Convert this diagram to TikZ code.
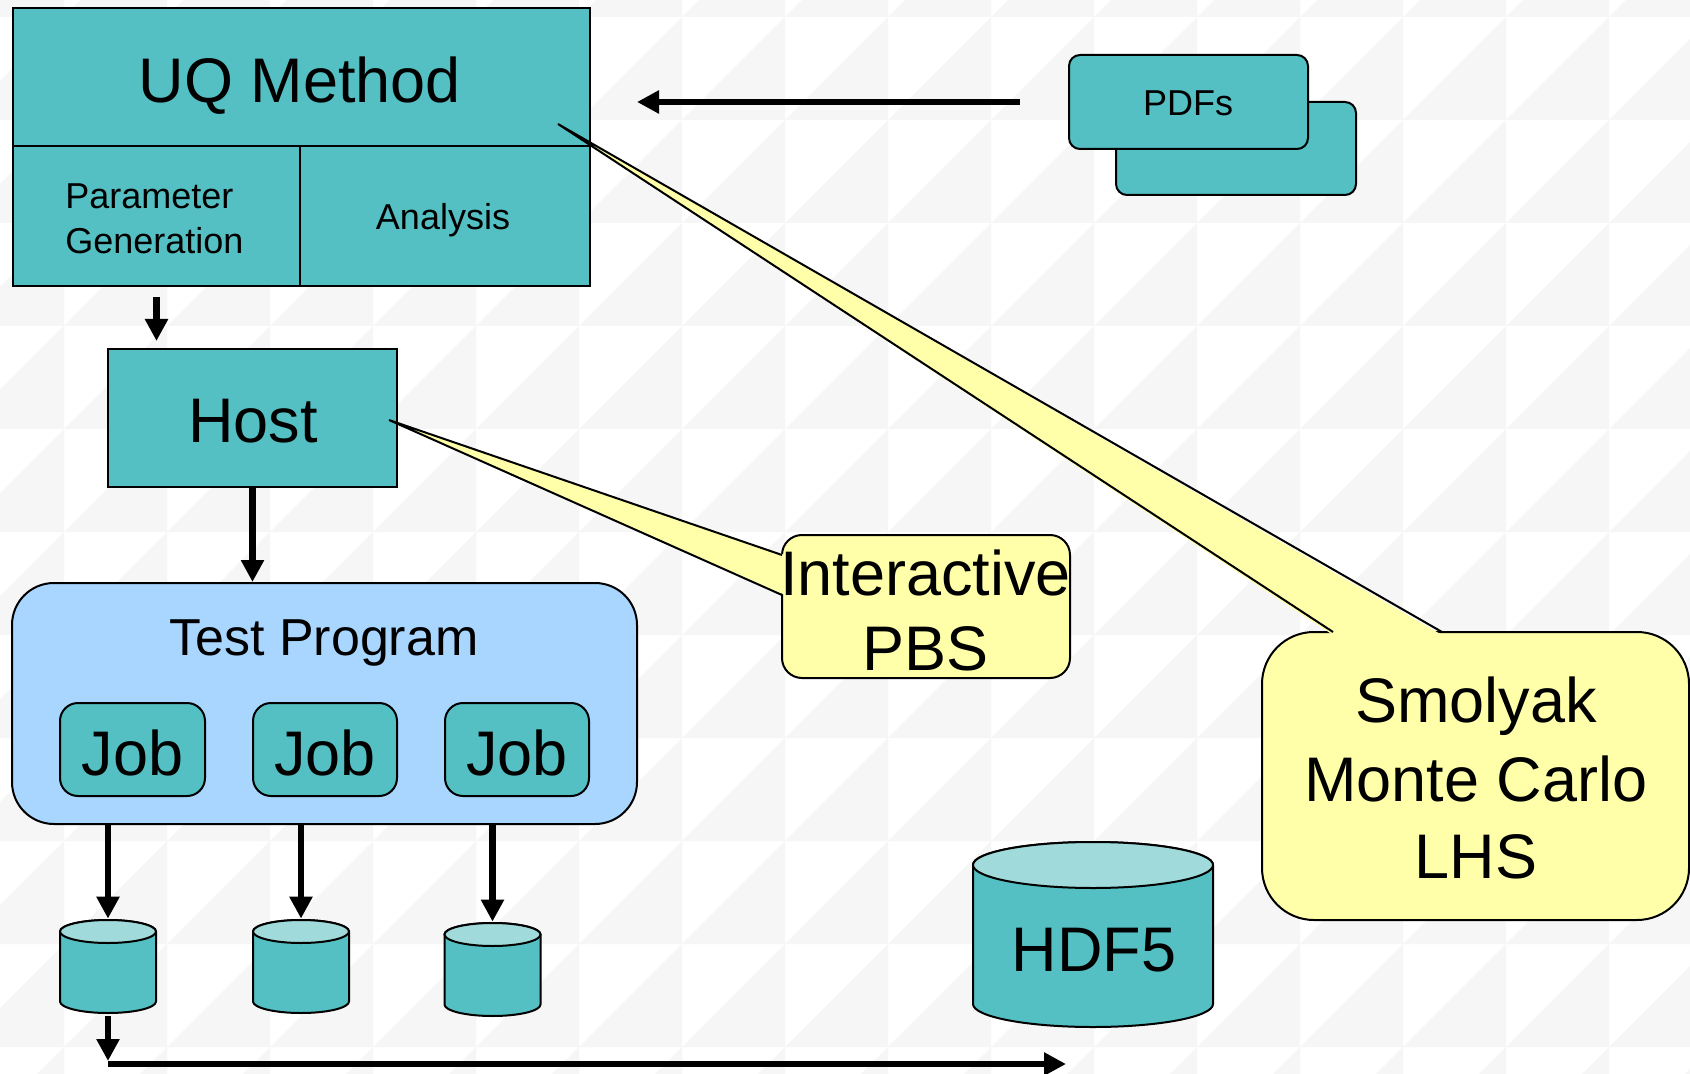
\documentclass[tikz,border=0pt]{standalone}
\usepackage{fontspec}
\setmainfont{Liberation Sans}
\usetikzlibrary{arrows.meta}
\definecolor{uqteal}{RGB}{84,192,195}
\definecolor{uqcyltop}{RGB}{160,218,218}
\definecolor{uqblue}{RGB}{168,214,255}
\definecolor{uqyellow}{RGB}{255,255,170}
\definecolor{uqbg}{RGB}{246,246,246}
\newcommand\dbcyl[6]{%
  \node[inner sep=0pt, minimum width={#5*1pt}, minimum height={(#4-#3)*0.5pt}] (#1) at ({#2},{(#3+#4)/2}) {};
  \draw[line width=1pt, fill=uqteal] ({#2-#5},{#3+#6}) -- ({#2-#5},{#4-#6})
     arc[start angle=180, end angle=360, x radius={#5*0.5pt}, y radius={#6*0.5pt}]
     -- ({#2+#5},{#3+#6})
     arc[start angle=0, end angle=180, x radius={#5*0.5pt}, y radius={#6*0.5pt}] -- cycle;
  \draw[line width=1pt, fill=uqcyltop] ({#2},{#3+#6}) ellipse [x radius={#5*0.5pt}, y radius={#6*0.5pt}];
}
\begin{document}
\begin{tikzpicture}[x=0.5pt,y=-0.5pt,
  box/.style={draw=black, line width=1pt, fill=uqteal, inner sep=0pt},
  callout/.style={draw=black, line width=1pt, fill=uqyellow, inner sep=0pt},
  arr/.style={line width=3.25pt, -{Triangle[length=11pt,width=11pt]}},
  big/.style={font=\fontsize{31.5}{38}\selectfont, inner sep=0pt, anchor=base},
  mid/.style={font=\fontsize{26}{30}\selectfont, inner sep=0pt, anchor=base},
  small/.style={font=\fontsize{18}{22}\selectfont, inner sep=0pt, anchor=base}]

\fill[white] (0,0) rectangle (1690,1074);
\useasboundingbox (0,0) rectangle (1690,1074);
\begin{scope}
\clip (0,0) rectangle (1690,1074);
\foreach \i in {0,...,17} \foreach \j in {0,...,11} {
  \fill[uqbg] ({-39+103*\i},{17+103*(\j-1)+103}) -- ({-39+103*\i+103},{17+103*(\j-1)+103}) -- ({-39+103*\i+103},{17+103*(\j-1)}) -- cycle;
}
\end{scope}

% UQ method block
\node[box, minimum width=288.5pt, minimum height=69pt] (uqtop) at (301.5,77) {};
\node[box, minimum width=143.5pt, minimum height=70pt] (pg) at (156.5,216) {};
\node[box, minimum width=145pt, minimum height=70pt] (an) at (445,216) {};

% Host
\node[box, minimum width=144.5pt, minimum height=69pt] (host) at (252.5,418) {};
\draw[arr, shorten <=5pt, shorten >=3.5pt] (pg.south) -- (pg.south |- host.north);

% Test program
\node[draw=black, line width=1pt, fill=uqblue, rounded corners=21pt, inner sep=0pt,
      minimum width=312.5pt, minimum height=120.5pt] (test) at (324.5,703.5) {};
\draw[arr] (host.south) -- (host.south |- test.north);
\node[box, rounded corners=9pt, minimum width=72.5pt, minimum height=46.5pt] (job1) at (132.5,749.5) {};
\node[box, rounded corners=9pt, minimum width=72pt, minimum height=46.5pt] (job2) at (325,749.5) {};
\node[box, rounded corners=9pt, minimum width=72pt, minimum height=46.5pt] (job3) at (517,749.5) {};

% data cylinders
\dbcyl{c1}{108}{920}{1013}{48}{11.5}
\dbcyl{c2}{301}{920}{1013}{48}{11.5}
\dbcyl{c3}{492.5}{923}{1016}{48}{11.5}
\dbcyl{hdf}{1093}{842}{1027}{120}{23}
\draw[arr, shorten >=0.5pt] (test.south -| c1.north) -- (c1.north);
\draw[arr, shorten >=0.5pt] (test.south -| c2.north) -- (c2.north);
\draw[arr, shorten >=0.5pt] (test.south -| c3.north) -- (c3.north);
\coordinate (busL) at (108,1064);
\coordinate (busR) at (1066,1064);
\draw[arr, shorten <=1.5pt, shorten >=1.5pt] (c1.south) -- (busL);
\draw[arr] (busL) -- (busR);

% PDFs
\node[box, rounded corners=5.5pt, minimum width=120pt, minimum height=46.5pt] (pdf2) at (1236,148.5) {};
\node[box, rounded corners=5.5pt, minimum width=119.5pt, minimum height=47pt] (pdf1) at (1188.5,102) {};
\draw[arr, shorten <=24pt, shorten >=23pt] (pdf1.west) -- (pdf1.west -| uqtop.east);

% callouts
\node[callout, rounded corners=10pt, minimum width=144pt, minimum height=71.5pt] (ipbs) at (926,606.5) {};
\coordinate (hostTip) at (389,420);
\coordinate (ib1) at (782,555);
\coordinate (ib2) at (782,595);
\fill[uqyellow] (hostTip) -- ([xshift=1.5pt]ib1) -- ([xshift=1.5pt]ib2) -- cycle;
\draw[line width=1pt] (ib1) -- (hostTip) -- (ib2);

\node[callout, rounded corners=26pt, minimum width=213.5pt, minimum height=144pt] (smol) at (1475.5,776) {};
\coordinate (uqTip) at (558,124);
\coordinate (sb1) at (1333,632);
\coordinate (sb2) at (1442,632);
\fill[uqyellow] (uqTip) -- ([yshift=-1.5pt]sb1) -- ([yshift=-1.5pt]sb2) -- cycle;
\draw[line width=1pt] (sb1) -- (uqTip) -- (sb2);

% texts
\node[big] (uqT) at (300,103) {UQ Method};
\node[small, anchor=base west] (pgT1) at (65,209) {Parameter};
\node[small, anchor=base west] (pgT2) at (65,254) {Generation};
\node[small] (anT) at (443,230) {Analysis};
\node[big] (hostT) at (253,443) {Host};
\node[mid] (testT) at (324,655) {Test Program};
\node[big] (j1T) at (132.5,775) {Job};
\node[big] (j2T) at (325,775) {Job};
\node[big] (j3T) at (517,775) {Job};
\node[big] (hdfT) at (1094,971) {HDF5};
\node[small] (pdfT) at (1188,116) {PDFs};
\node[big] (ipT1) at (925.5,595) {Interactive};
\node[big] (ipT2) at (925.5,670) {PBS};
\node[big] (smT1) at (1476,722) {Smolyak};
\node[big] (smT2) at (1476,801) {Monte Carlo};
\node[big] (smT3) at (1476,878) {LHS};
\end{tikzpicture}
\end{document}
